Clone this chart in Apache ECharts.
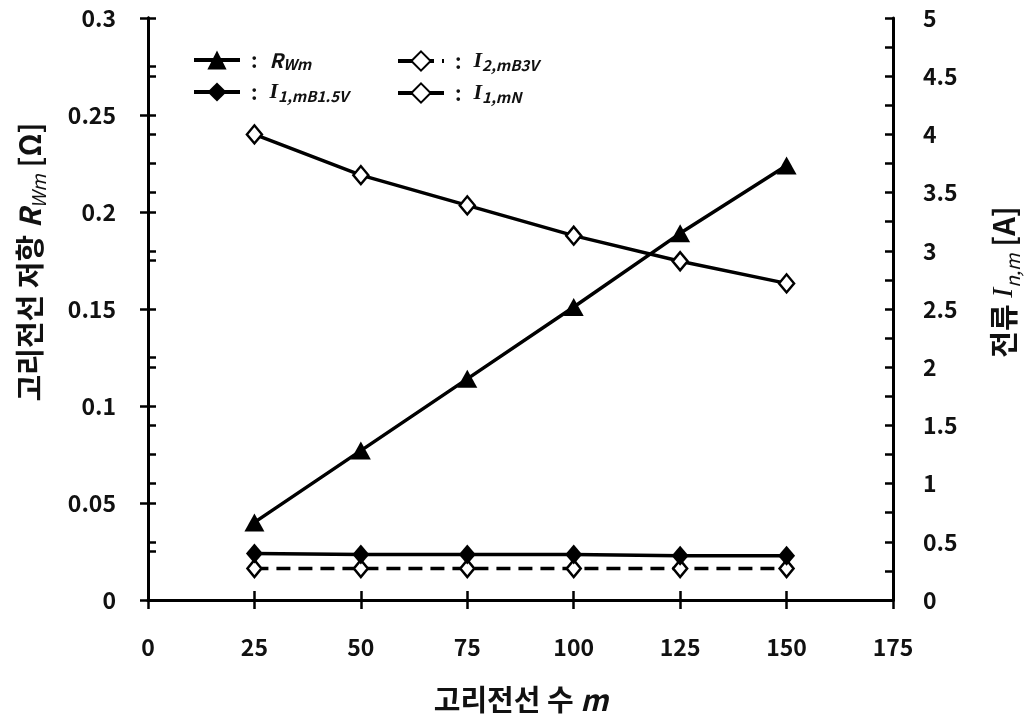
<!DOCTYPE html>
<html>
<head>
<meta charset="utf-8">
<script src="https://cdn.jsdelivr.net/npm/echarts@6/dist/echarts.min.js"></script>
<style>
  html, body { margin: 0; padding: 0; background: #fff; }
  #chart { width: 1026px; height: 724px; }
</style>
</head>
<body>
<div id="chart"></div>
<script>
  // 고리전선 수 m
  const wireCounts = [25, 50, 75, 100, 125, 150]

  // left axis: resistance R_Wm [Ω]
  const rWm = [0.040, 0.077, 0.114, 0.151, 0.189, 0.224]

  // right axis: currents [A]
  const i1mN = [4.00, 3.65, 3.39, 3.13, 2.91, 2.72]
  const i1mB15V = [0.40, 0.39, 0.39, 0.39, 0.38, 0.38]
  const i2mB3V = [0.27, 0.27, 0.27, 0.27, 0.27, 0.27]

  const FONT = '"Noto Sans CJK KR", "Noto Sans", sans-serif'
  const BLACK = '#000'

  const pairs = (ys) => wireCounts.map((x, i) => [x, ys[i]])

  const legendNames = {
    RWm: '{c|:}{i|R}{s|Wm}',
    I2B: '{c|:}{ii|I}{s|2,mB3V}',
    I1B: '{c|:}{ii|I}{s|1,mB1.5V}',
    I1N: '{c|:}{ii|I}{s|1,mN}'
  }

  const legendRich = {
    c: { fontSize: 20, fontWeight: 'bold', fontFamily: FONT, color: '#111', lineHeight: 24, padding: [0, 0, 0, 6] },
    i: { fontSize: 20, fontStyle: 'italic', fontWeight: 'bold', fontFamily: FONT, color: '#111', lineHeight: 24, padding: [0, 0, 0, 12] },
    ii: { fontSize: 22, fontStyle: 'italic', fontWeight: 'bold', fontFamily: 'Liberation Serif, serif', color: '#111', lineHeight: 24, padding: [0, 0, 0, 12] },
    s: { fontSize: 15, fontStyle: 'italic', fontWeight: 'bold', fontFamily: FONT, color: '#111', lineHeight: 15, verticalAlign: 'bottom' }
  }

  const titleRich = {
    k: { fontSize: 29, fontFamily: FONT, fontWeight: 'bold', fill: '#111', lineHeight: 36 },
    i: { fontSize: 29, fontFamily: FONT, fontWeight: 'bold', fontStyle: 'italic', fill: '#111', lineHeight: 36 },
    ii: { fontSize: 30, fontFamily: 'Liberation Serif, serif', fontStyle: 'italic', fill: '#111', lineHeight: 36 },
    s: { fontSize: 19, fontFamily: FONT, fontStyle: 'italic', fill: '#111', lineHeight: 22, verticalAlign: 'bottom' }
  }

  const tickLabel = { color: '#111', fontSize: 23, fontWeight: 'bold', fontFamily: FONT }
  const axisLine = { show: true, lineStyle: { color: BLACK, width: 3 } }
  const tickStyle = { color: BLACK, width: 2.5 }

  const legendBase = {
    top: 50, orient: 'vertical', padding: 0,
    itemWidth: 46, itemHeight: 24, itemGap: 9,
    lineStyle: { width: 4 },
    formatter: (n) => legendNames[n],
    textStyle: { color: '#111', rich: legendRich }
  }

  const chart = echarts.init(document.getElementById('chart'))
  chart.setOption({
    backgroundColor: '#fff',
    animation: false,
    grid: { left: 148, right: 133, top: 18, bottom: 124 },
    legend: [
      Object.assign({ left: 192, data: ['RWm', 'I1B'] }, legendBase),
      Object.assign({ left: 396, data: ['I2B', 'I1N'] }, legendBase)
    ],
    xAxis: [
      {
        type: 'value', position: 'bottom', min: 0, max: 175, interval: 25,
        axisLine,
        axisTick: { show: true, inside: false, length: 9, lineStyle: tickStyle },
        axisLabel: Object.assign({ margin: 36 }, tickLabel),
        splitLine: { show: false }
      },
      {
        type: 'value', position: 'bottom', min: 0, max: 175, interval: 25,
        axisLine,
        axisTick: { show: true, inside: true, length: 9, lineStyle: tickStyle },
        axisLabel: { show: false },
        splitLine: { show: false }
      }
    ],
    yAxis: [
      {
        type: 'value', position: 'left', min: 0, max: 0.3, interval: 0.05,
        axisLine,
        axisTick: { show: true, inside: false, length: 8, lineStyle: tickStyle },
        axisLabel: Object.assign({ margin: 32 }, tickLabel),
        splitLine: { show: false }
      },
      {
        type: 'value', position: 'right', min: 0, max: 5, interval: 0.5,
        axisLine,
        axisTick: { show: true, inside: false, length: 8, lineStyle: tickStyle },
        axisLabel: Object.assign({ margin: 30 }, tickLabel),
        splitLine: { show: false }
      },
      {
        type: 'value', position: 'left', min: 0, max: 0.3, interval: 0.05,
        axisLine,
        axisTick: { show: true, inside: true, length: 8, lineStyle: tickStyle },
        minorTick: { show: true, splitNumber: 2, length: 8, lineStyle: tickStyle },
        axisLabel: { show: false },
        splitLine: { show: false }
      },
      {
        type: 'value', position: 'right', min: 0, max: 5, interval: 0.5,
        axisLine,
        axisTick: { show: true, inside: true, length: 8, lineStyle: tickStyle },
        minorTick: { show: true, splitNumber: 2, length: 8, lineStyle: tickStyle },
        axisLabel: { show: false },
        splitLine: { show: false }
      }
    ],
    series: [
      {
        name: 'RWm', type: 'line', yAxisIndex: 0,
        data: pairs(rWm),
        symbol: 'triangle', symbolSize: [20, 18],
        itemStyle: { color: BLACK },
        lineStyle: { color: BLACK, width: 3.5 }
      },
      {
        name: 'I2B', type: 'line', yAxisIndex: 1,
        data: pairs(i2mB3V),
        symbol: 'diamond', symbolSize: [14, 17],
        itemStyle: { color: '#fff', borderColor: BLACK, borderWidth: 2.5 },
        lineStyle: { color: BLACK, width: 3.5, type: [14, 8] }
      },
      {
        name: 'I1B', type: 'line', yAxisIndex: 1,
        data: pairs(i1mB15V),
        symbol: 'diamond', symbolSize: [17, 20],
        itemStyle: { color: BLACK },
        lineStyle: { color: BLACK, width: 3.5 }
      },
      {
        name: 'I1N', type: 'line', yAxisIndex: 1,
        data: pairs(i1mN),
        symbol: 'diamond', symbolSize: [15, 18],
        itemStyle: { color: '#fff', borderColor: BLACK, borderWidth: 2.5 },
        lineStyle: { color: BLACK, width: 3.5 }
      }
    ],
    graphic: [
      {
        type: 'text', x: 30, y: 262, rotation: Math.PI / 2,
        style: {
          text: '{k|고리전선 저항 }{i|R}{s|Wm}{k| [Ω]}',
          rich: titleRich, align: 'center', verticalAlign: 'middle'
        }
      },
      {
        type: 'text', x: 1004, y: 282, rotation: Math.PI / 2,
        style: {
          text: '{k|전류 }{ii|I}{s|n,m}{k| [A]}',
          rich: titleRich, align: 'center', verticalAlign: 'middle'
        }
      },
      {
        type: 'text', x: 521, y: 700,
        style: {
          text: '{k|고리전선 수 }{i|m}',
          rich: titleRich, align: 'center', verticalAlign: 'middle'
        }
      }
    ]
  })
</script>
</body>
</html>
